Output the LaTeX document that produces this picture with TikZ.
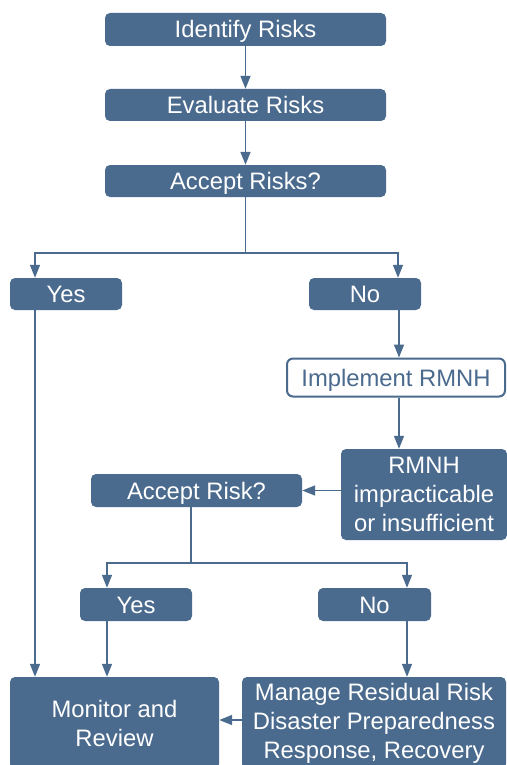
\documentclass[tikz,border=0pt]{standalone}
\usepackage{fontspec}
\setmainfont{Liberation Sans}
\usetikzlibrary{arrows.meta,calc}
\definecolor{main}{HTML}{4A6A8E}
\begin{document}
\begin{tikzpicture}[x=1pt,y=-1pt,
  box/.style={draw=none,fill=main,text=white,rounded corners=5pt,inner sep=0pt,align=center,
    font=\fontsize{23.8}{29}\selectfont},
  one/.style={text height=17pt,text depth=0pt},
  wbox/.style={draw=main,line width=2pt,fill=white,text=main,rounded corners=6pt,inner sep=0pt,align=center,
    font=\fontsize{23.8}{29}\selectfont,text height=17pt,text depth=0pt},
  arr/.style={draw=main,line width=1.5pt,-{Triangle[length=13pt,width=10pt]}},
  ln/.style={draw=main,line width=1.5pt}]
\useasboundingbox (0,0) rectangle (506,765);
\node[box,one,minimum width=281pt,minimum height=33pt] (ident) at (245.5,29.5) {Identify Risks};
\node[box,one,minimum width=281pt,minimum height=32pt] (eval) at (245.5,105) {Evaluate Risks};
\node[box,one,minimum width=281pt,minimum height=32pt] (acc1) at (245.5,181) {Accept Risks?};
\node[box,one,minimum width=112pt,minimum height=32pt] (yes1) at (66,294) {Yes};
\node[box,one,minimum width=112pt,minimum height=32pt] (no1) at (365,294) {No};
\node[wbox,minimum width=218pt,minimum height=38pt] (impl) at (396,377.5) {Implement RMNH};
\node[box,minimum width=166pt,minimum height=91pt] (rmnh) at (424,494.5) {RMNH\\impracticable\\or insufficient};
\node[box,one,minimum width=211pt,minimum height=33pt] (acc2) at (196.5,490.5) {Accept Risk?};
\node[box,one,minimum width=112pt,minimum height=33pt] (yes2) at (136,604.5) {Yes};
\node[box,one,minimum width=113pt,minimum height=33pt] (no2) at (374.5,604.5) {No};
\node[box,minimum width=209pt,minimum height=92pt] (mon) at (114.5,723) {Monitor and\\Review};
\node[box,minimum width=264pt,minimum height=92pt] (man) at (374,723) {\raisebox{-2pt}{\parbox{264pt}{\centering Manage Residual Risk\\Disaster Preparedness\\Response, Recovery}}};
\coordinate (j1) at (245.5,253);
\coordinate (j2) at (191,563);
% connectors
\draw[arr] (ident) -- (eval);
\draw[arr] (eval) -- (acc1);
\draw[ln] (acc1.south) -- (j1);
\draw[arr] (j1) -| ([xshift=-31pt]yes1.north);
\draw[arr] (j1) -| ([xshift=33pt]no1.north);
\draw[arr] ([xshift=34pt]no1.south) -- ([xshift=34pt]no1.south |- impl.north);
\draw[arr] ([xshift=34pt]no1.south |- impl.south) -- ([xshift=34pt]no1.south |- rmnh.north);
\draw[arr] (rmnh.west |- acc2.east) -- (acc2.east);
\draw[ln] (j2 |- acc2.south) -- (j2);
\draw[arr] (j2) -| ([xshift=-29pt]yes2.north);
\draw[arr] (j2) -| ([xshift=32.5pt]no2.north);
\draw[arr] ([xshift=-31pt]yes1.south) -- ([xshift=-31pt]yes1.south |- mon.north);
\draw[arr] ([xshift=-29pt]yes2.south) -- ([xshift=-29pt]yes2.south |- mon.north);
\draw[arr] ([xshift=32.5pt]no2.south) -- ([xshift=32.5pt]no2.south |- man.north);
\draw[arr] (man.west |- 0,720) -- (mon.east |- 0,720);
\end{tikzpicture}
\end{document}
